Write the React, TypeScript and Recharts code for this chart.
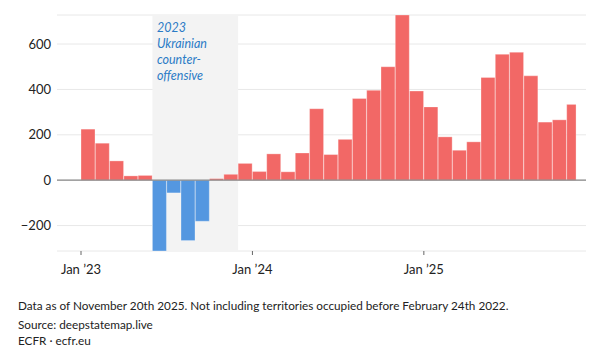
import React from "react";
import {
  BarChart,
  Bar,
  XAxis,
  YAxis,
  CartesianGrid,
  ReferenceArea,
  ReferenceLine,
  Cell,
  Rectangle,
} from "recharts";

// Monthly net territorial change (km²), Jan 2023 – Nov 2025 (Nov partial)
const months: string[] = [
  "2023-01", "2023-02", "2023-03", "2023-04", "2023-05", "2023-06",
  "2023-07", "2023-08", "2023-09", "2023-10", "2023-11", "2023-12",
  "2024-01", "2024-02", "2024-03", "2024-04", "2024-05", "2024-06",
  "2024-07", "2024-08", "2024-09", "2024-10", "2024-11", "2024-12",
  "2025-01", "2025-02", "2025-03", "2025-04", "2025-05", "2025-06",
  "2025-07", "2025-08", "2025-09", "2025-10", "2025-11",
];
const values: number[] = [
  225, 163, 85, 19, 21, -312, -56, -266, -181, 7, 26, 74,
  38, 116, 37, 120, 315, 113, 180, 360, 396, 500, 728, 393,
  323, 191, 132, 169, 453, 555, 564, 460, 256, 266, 334,
];
// share of each month covered by the data (data as of Nov 20th 2025)
const daysCovered: number[] = months.map((m) => (m === "2025-11" ? 20 : 30));
const daysInMonth = 30;

const tickMonths: number[] = [0, 12, 24];
const tickLabels: string[] = ["Jan \u201923", "Jan \u201924", "Jan \u201925"];
const yTicks: number[] = [-200, 0, 200, 400, 600];

const counterOffensiveStart = "2023-06";
const counterOffensiveEnd = "2023-12";
const annotationLines: string[] = ["2023", "Ukrainian", "counter-", "offensive"];

const notes = "Data as of November 20th 2025. Not including territories occupied before February 24th 2022.";
const source = "Source: deepstatemap.live";
const credit = "ECFR \u00b7 ecfr.eu";

const data = months.map((m, i) => ({
  month: m,
  t: i + 0.5,
  value: values[i],
  frac: daysCovered[i] / daysInMonth,
}));

const RED = "#f26866";
const BLUE = "#5497e0";
const FONT = "Lato, 'Noto Sans', sans-serif";

const BarShape = (props: any) => {
  const { payload, width } = props;
  const f = payload && payload.frac ? payload.frac : 1;
  return <Rectangle {...props} width={width * f} />;
};

const AnnotationLabel = (props: any) => {
  const vb = props.viewBox || {};
  const x = (vb.x || 0) + 4.5;
  const y = (vb.y || 0) + 16.5;
  return (
    <text
      x={x}
      y={y}
      fill="#2b7bc6"
      fontSize={12.5}
      fontStyle="italic"
      fontFamily={FONT}
    >
      {annotationLines.map((l, i) => (
        <tspan key={i} x={x} dy={i === 0 ? 0 : 16.3}>
          {l}
        </tspan>
      ))}
    </text>
  );
};

export default function App() {
  const x1 = months.indexOf(counterOffensiveStart);
  const x2 = months.indexOf(counterOffensiveEnd);
  const yMin = Math.min(...values);
  const yMax = Math.max(...values);
  return (
    <div
      style={{
        position: "absolute",
        left: 0,
        top: 0,
        width: 600,
        height: 359,
        background: "#fff",
        fontFamily: FONT,
        overflow: "hidden",
      }}
    >
      <BarChart
        width={600}
        height={290}
        data={data}
        margin={{ top: 15, right: 14, left: 0, bottom: 9 }}
        barCategoryGap={0}
        barGap={0}
      >
        <CartesianGrid vertical={false} stroke="#e8e8e8" strokeWidth={1} />
        <ReferenceArea
          x1={x1}
          x2={x2}
          y1={yMin}
          y2={yMax}
          fill="#f3f3f3"
          fillOpacity={1}
          stroke="none"
          ifOverflow="hidden"
          label={<AnnotationLabel />}
        />
        <XAxis
          type="number"
          dataKey="t"
          domain={[0, months.length]}
          padding={{ left: 24, right: 5 }}
          ticks={tickMonths}
          tickFormatter={(v: number) => tickLabels[tickMonths.indexOf(v)] || ""}
          axisLine={false}
          tickLine={{ stroke: "#666" }}
          tickSize={4}
          tickMargin={10}
          height={30}
          tick={{ fill: "#222", fontSize: 13, fontFamily: FONT }}
          interval={0}
        />
        <YAxis
          type="number"
          domain={[yMin, yMax]}
          ticks={yTicks}
          width={57}
          axisLine={false}
          tickLine={false}
          tickSize={4}
          tickMargin={2}
          tickFormatter={(v: number) => (v < 0 ? "\u2212" + Math.abs(v) : String(v))}
          tick={{ fill: "#222", fontSize: 13, fontFamily: FONT }}
        />
        <Bar
          dataKey="value"
          isAnimationActive={false}
          shape={<BarShape />}
          stroke="#ffffff"
          strokeWidth={0.5}
          strokeOpacity={0.6}
        >
          {data.map((d, i) => (
            <Cell key={i} fill={d.value < 0 ? BLUE : RED} />
          ))}
        </Bar>
        <ReferenceLine y={0} stroke="#888" strokeWidth={1.2} />
      </BarChart>
      <div
        style={{
          position: "absolute",
          left: 18,
          top: 298,
          fontSize: 11.75,
          lineHeight: "16px",
          color: "#222",
          whiteSpace: "nowrap",
        }}
      >
        <div>{notes}</div>
        <div style={{ marginTop: 3 }}>{source}</div>
        <div>{credit}</div>
      </div>
    </div>
  );
}
